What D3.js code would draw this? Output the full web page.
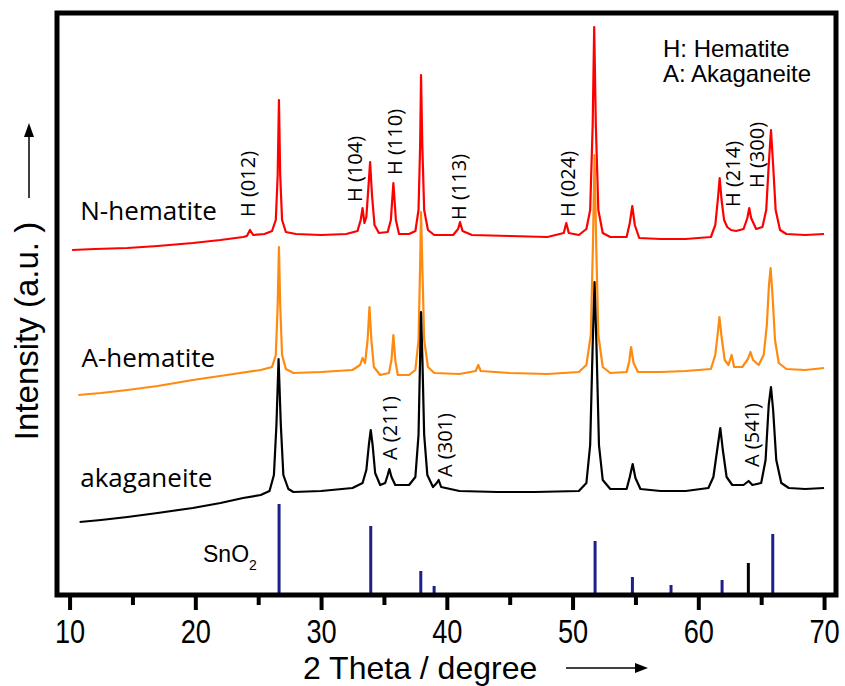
<!DOCTYPE html>
<html>
<head>
<meta charset="utf-8">
<script src="https://cdnjs.cloudflare.com/ajax/libs/d3/7.8.5/d3.min.js"></script>
<style>
body { margin: 0; background: #fff; }
</style>
</head>
<body>
<div id="chart"></div>
<script>
// 2theta (degree), intensity (a.u.)
var nHematite = [[10.2,345],[12,346],[14.6,347],[17,349],[19.8,352],[22,355],[23.8,358],[24.1,359],[24.35,365],[24.6,360],[25.5,361],[26.1,364],[26.4,375],[26.55,420],[26.65,495],[26.75,420],[26.9,375],[27.2,363],[28,361],[30,360],[32,361],[32.9,364],[33.15,375],[33.3,387],[33.45,372],[33.6,378],[33.75,405],[33.9,433],[34.05,400],[34.25,370],[34.6,362],[35.3,363],[35.55,375],[35.75,412],[35.95,375],[36.2,361],[37.0,361],[37.5,364],[37.75,385],[37.88,450],[37.95,520],[38.05,450],[38.2,385],[38.5,365],[39,360],[40.5,360],[40.9,366],[41.05,373],[41.25,364],[42,360],[45,359],[48,358],[49.3,362],[49.5,372],[49.7,362],[50.5,360],[51.1,366],[51.4,385],[51.6,470],[51.72,568],[51.85,470],[52.05,385],[52.4,362],[53,358],[54.3,358],[54.55,372],[54.75,389],[54.95,370],[55.3,357],[57,356],[59,356],[61,358],[61.35,370],[61.55,395],[61.7,417],[61.85,395],[62.05,375],[62.3,368],[62.6,365],[63.0,364],[63.6,366],[63.9,377],[64.05,387],[64.2,377],[64.6,366],[65.1,368],[65.4,385],[65.6,430],[65.78,465],[65.95,430],[66.15,385],[66.5,365],[67,361],[68.5,360],[70,361]];

var aHematite = [[10.7,200],[12.5,202],[14.6,205],[17,209],[19.8,215],[22.5,220],[25.2,225],[26.1,228],[26.4,240],[26.55,290],[26.65,348],[26.75,290],[26.9,240],[27.2,226],[27.8,222],[30,223],[32.5,225],[33.1,230],[33.3,237],[33.5,232],[33.7,255],[33.85,288],[34.0,255],[34.2,228],[34.7,220],[35.4,222],[35.6,235],[35.75,260],[35.9,235],[36.1,220],[37.0,220],[37.5,225],[37.75,255],[37.88,330],[37.95,383],[38.05,330],[38.2,255],[38.5,228],[39,222],[41,221],[42.3,224],[42.5,230],[42.7,224],[45,222],[48,221],[50.5,223],[51.1,230],[51.45,260],[51.62,350],[51.75,440],[51.88,350],[52.05,260],[52.4,228],[53,222],[54.3,223],[54.5,233],[54.65,248],[54.85,232],[55.2,223],[57,223],[59,224],[61,226],[61.35,240],[61.55,262],[61.68,278],[61.85,258],[62.1,235],[62.4,230],[62.65,240],[62.85,228],[63.5,228],[63.95,236],[64.15,243],[64.35,235],[64.8,230],[65.2,240],[65.45,270],[65.62,310],[65.75,327],[65.9,300],[66.1,255],[66.4,232],[67,226],[68.5,225],[70,227]];

var akaganeite = [[10.8,73],[12.5,75],[14.6,78],[17,82],[19.8,87],[22,92],[23.8,97],[25.2,100],[25.9,104],[26.25,120],[26.45,170],[26.62,236],[26.8,170],[27.0,120],[27.4,106],[27.8,103],[30,104],[32.5,107],[33.3,112],[33.6,125],[33.8,150],[33.95,165],[34.1,150],[34.3,122],[34.7,110],[35.1,112],[35.3,120],[35.43,126],[35.6,118],[35.9,110],[37.0,110],[37.5,118],[37.75,160],[37.88,240],[37.95,283],[38.05,240],[38.2,160],[38.45,120],[38.9,108],[39.2,112],[39.35,115],[39.55,108],[41,104],[44,103],[47,103],[50.5,104],[51.1,112],[51.4,150],[51.6,250],[51.75,313],[51.9,250],[52.1,150],[52.4,115],[53,106],[54.3,106],[54.55,118],[54.78,131],[55.0,117],[55.4,106],[57,104],[59,104],[60.8,107],[61.2,118],[61.5,145],[61.75,167],[61.95,145],[62.25,118],[62.7,110],[63.6,110],[64.0,114],[64.3,110],[65.0,112],[65.35,135],[65.6,190],[65.78,208],[65.95,185],[66.2,135],[66.6,112],[67.2,107],[68.5,106],[70,107]];

// SnO2 reference lines
var sno2Pos = [26.66, 33.95, 37.93, 38.99, 51.79, 54.76, 57.83, 61.89, 65.92];
var sno2Int = [91, 69, 24, 9, 54, 18, 10, 15, 61];
var otherPos = [63.98];
var otherInt = [32];

var hLabels = ["H (012)", "H (104)", "H (110)", "H (113)", "H (024)", "H (214)", "H (300)"];
var hLabelX = [24.2, 32.7, 35.88, 41.0, 49.67, 62.79, 64.65];
var hLabelY = [378, 393, 420, 375, 378, 388, 407];
var aLabels = ["A (211)", "A (301)", "A (541)"];
var aLabelX = [35.49, 39.86, 64.27];
var aLabelY = [135, 118, 128];

var sampleNames = ["N-hematite", "A-hematite", "akaganeite"];
var sampleX = [10.85, 10.95, 10.85];
var sampleY = [375, 228, 108];

var majorTicks = [10, 20, 30, 40, 50, 60, 70];
var minorTicks = [15, 25, 35, 45, 55, 65];

var W = 845, H = 686;
var plotL = 57, plotR = 836, plotT = 13, plotB = 595;

var svg = d3.select("#chart").append("svg")
    .attr("width", W)
    .attr("height", H)
    .style("font-family", "'Liberation Sans', Arial, sans-serif");

var x = d3.scaleLinear().domain([9.0, 70.95]).range([plotL, plotR]);
var y = d3.scaleLinear().domain([0, 582]).range([plotB, plotT]);

var line = d3.line()
    .x(function(d) { return x(d[0]); })
    .y(function(d) { return y(d[1]); });

// reference sticks
function drawSticks(pos, ints, color) {
    svg.append("g").selectAll("line")
        .data(pos)
        .enter().append("line")
        .attr("x1", function(d) { return x(d); })
        .attr("x2", function(d) { return x(d); })
        .attr("y1", y(0))
        .attr("y2", function(d, i) { return y(ints[i]); })
        .attr("stroke", color)
        .attr("stroke-width", 3);
}
drawSticks(sno2Pos, sno2Int, "#1f1f8c");
drawSticks(otherPos, otherInt, "#000");

var snLabel = svg.append("text")
    .attr("x", 203)
    .attr("y", 562)
    .style("font-size", "23px")
    .text("SnO");
snLabel.append("tspan")
    .attr("dy", 8)
    .style("font-size", "14px")
    .text("2");

// patterns
function drawPattern(data, color) {
    svg.append("path")
        .datum(data)
        .attr("fill", "none")
        .attr("stroke", color)
        .attr("stroke-width", 2.2)
        .attr("stroke-linejoin", "round")
        .attr("d", line);
}
drawPattern(nHematite, "#ff0000");
drawPattern(aHematite, "#ff8a10");
drawPattern(akaganeite, "#000000");

function drawPeakLabels(labels, lx, ly) {
    svg.append("g").selectAll("text")
        .data(labels)
        .enter().append("text")
        .attr("transform", function(d, i) {
            return "translate(" + x(lx[i]) + "," + y(ly[i]) + ") rotate(-90)";
        })
        .attr("dy", "0.35em")
        .style("font-family", "'Open Sans', sans-serif")
        .style("font-size", "20px")
        .text(function(d) { return d; });
}
drawPeakLabels(hLabels, hLabelX, hLabelY);
drawPeakLabels(aLabels, aLabelX, aLabelY);

svg.append("g").selectAll("text")
    .data(sampleNames)
    .enter().append("text")
    .attr("x", function(d, i) { return x(sampleX[i]); })
    .attr("y", function(d, i) { return y(sampleY[i]); })
    .style("font-family", "'Open Sans', sans-serif")
    .style("font-size", "26px")
    .text(function(d) { return d; });

// legend
svg.append("text").attr("x", 663).attr("y", 57).style("font-size", "24px").text("H: Hematite");
svg.append("text").attr("x", 663).attr("y", 82).style("font-size", "24px").text("A: Akaganeite");

// axes
var xAxis = svg.append("g")
    .attr("transform", "translate(0," + plotB + ")")
    .call(d3.axisBottom(x).tickValues(majorTicks).tickSize(15).tickFormat(d3.format("d")));
xAxis.select(".domain").remove();
xAxis.selectAll(".tick line").attr("stroke-width", 4);
xAxis.selectAll(".tick text")
    .attr("y", 48)
    .attr("dy", 0)
    .attr("transform", "scale(0.8,1)")
    .style("font-family", "'Liberation Sans', Arial, sans-serif")
    .style("font-size", "34px")
    .attr("fill", "#000");

var xMinor = svg.append("g")
    .attr("transform", "translate(0," + plotB + ")")
    .call(d3.axisBottom(x).tickValues(minorTicks).tickSize(10).tickFormat(""));
xMinor.select(".domain").remove();
xMinor.selectAll(".tick line").attr("stroke-width", 4);

svg.append("rect")
    .attr("x", plotL)
    .attr("y", plotT)
    .attr("width", plotR - plotL)
    .attr("height", plotB - plotT)
    .attr("fill", "none")
    .attr("stroke", "#000")
    .attr("stroke-width", 5);

// axis titles with arrows
svg.append("text")
    .attr("x", 303)
    .attr("y", 679)
    .style("font-size", "32px")
    .text("2 Theta / degree");
svg.append("line").attr("x1", 566).attr("x2", 638).attr("y1", 668).attr("y2", 668)
    .attr("stroke", "#000").attr("stroke-width", 1.5);
svg.append("path").attr("d", "M648,668 L635,663 L635,673 Z").attr("fill", "#000");

svg.append("text")
    .attr("transform", "translate(38,331) rotate(-90)")
    .attr("text-anchor", "middle")
    .style("font-size", "33px")
    .text("Intensity (a.u. )");
svg.append("line").attr("x1", 29).attr("x2", 29).attr("y1", 198).attr("y2", 133)
    .attr("stroke", "#000").attr("stroke-width", 1.5);
svg.append("path").attr("d", "M29,123 L24,137 L34,137 Z").attr("fill", "#000");
</script>
</body>
</html>
